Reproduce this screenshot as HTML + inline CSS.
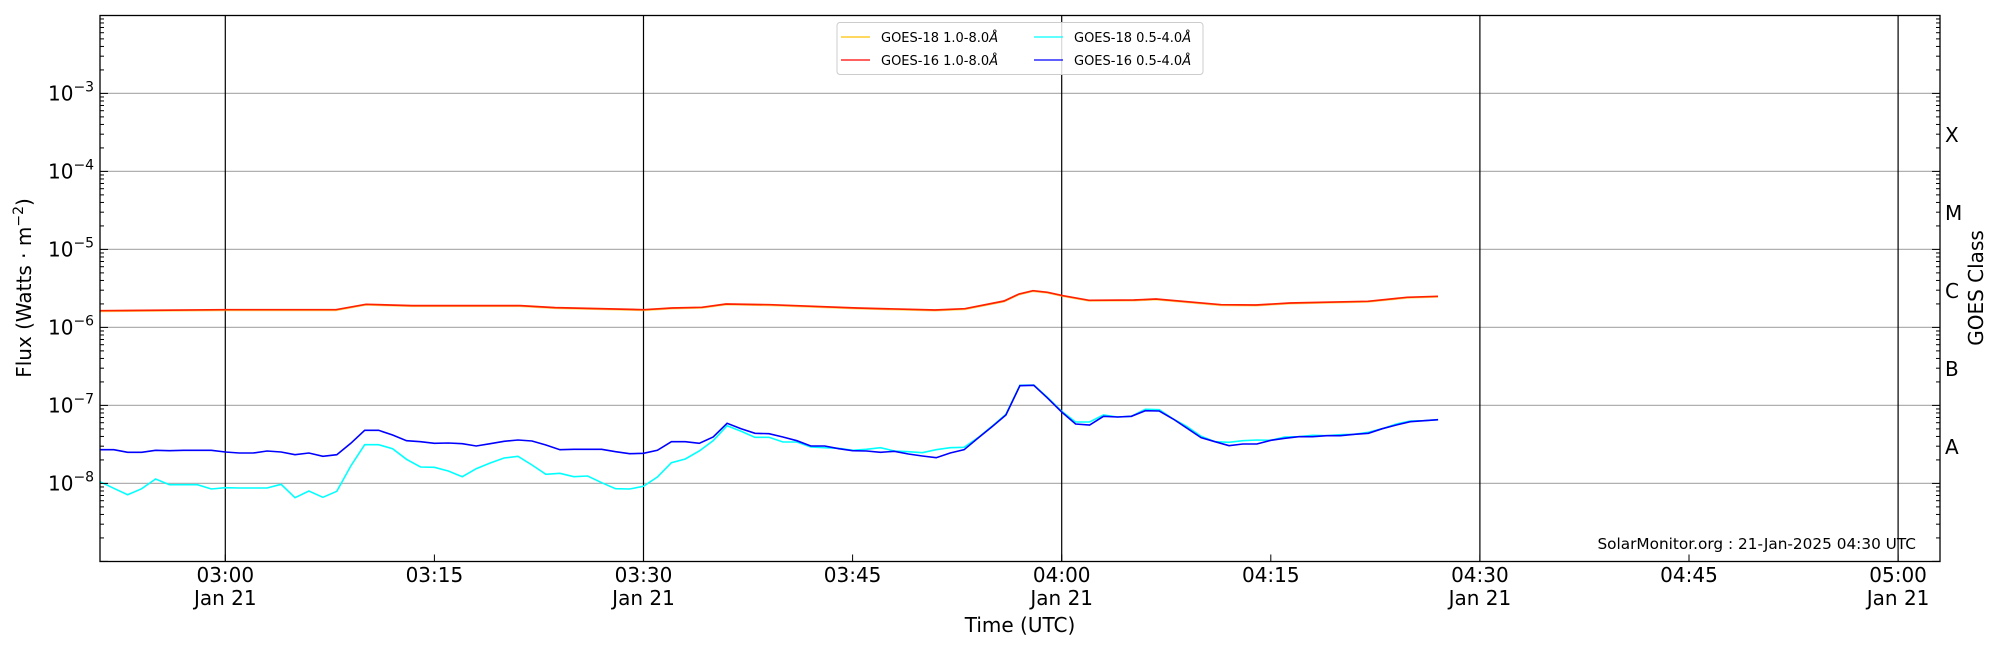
<!DOCTYPE html>
<html><head><meta charset="utf-8"><style>
html,body{margin:0;padding:0;background:#fff;}
svg{display:block;font-family:"DejaVu Sans","Liberation Sans",sans-serif;}
</style></head><body>
<svg id="s" width="2000" height="650" viewBox="0 0 2000 650" xmlns="http://www.w3.org/2000/svg">
<rect width="2000" height="650" fill="#fff"/>
<g id="grid"></g>
<g id="data"></g>
<rect x="100" y="15.5" width="1840" height="546" fill="none" stroke="#000" stroke-width="1.3"/>
<g id="ticks" stroke="#000" stroke-width="1"></g>
<g id="labels" font-size="20" fill="#000"></g>
<text x="1916" y="549" font-size="15.3" text-anchor="end">SolarMonitor.org : 21-Jan-2025 04:30 UTC</text>
<text x="1020" y="632" font-size="20" text-anchor="middle">Time (UTC)</text>
<text transform="translate(31,288) rotate(-90)" font-size="20" text-anchor="middle">Flux (Watts · m<tspan dy="-8" font-size="14">−2</tspan><tspan dy="8">)</tspan></text>
<text transform="translate(1983,288) rotate(-90)" font-size="20" text-anchor="middle">GOES Class</text>
<g>
<rect x="837" y="22.5" width="366" height="52" rx="3" fill="#fff" fill-opacity="0.85" stroke="#ccc"/>
<line x1="841" y1="37" x2="870" y2="37" stroke="#ffc000" stroke-width="1.3"/>
<line x1="841" y1="60" x2="870" y2="60" stroke="#ff0000" stroke-width="1.3"/>
<line x1="1034" y1="37" x2="1063" y2="37" stroke="#00ffff" stroke-width="1.3"/>
<line x1="1034" y1="60" x2="1063" y2="60" stroke="#0000ff" stroke-width="1.3"/>
<g font-size="13">
<text x="881" y="42">GOES-18 1.0-8.0<tspan font-style="italic">Å</tspan></text>
<text x="881" y="65">GOES-16 1.0-8.0<tspan font-style="italic">Å</tspan></text>
<text x="1074" y="42">GOES-18 0.5-4.0<tspan font-style="italic">Å</tspan></text>
<text x="1074" y="65">GOES-16 0.5-4.0<tspan font-style="italic">Å</tspan></text>
</g></g>
</svg>
<script>
var NS="http://www.w3.org/2000/svg";
function el(p,t,a,txt){var e=document.createElementNS(NS,t);for(var k in a)e.setAttribute(k,a[k]);if(txt!=null)e.textContent=txt;document.getElementById(p).appendChild(e);return e;}
var L=100,R=1940,T=15.5,B=561.5,D=78;
function yd(e){return 483.4-(e+8)*D;}
function xm(m){return 225.3+13.94*m;}
for(var e=-8;e<=-3;e++){el("grid","line",{x1:L,x2:R,y1:yd(e),y2:yd(e),stroke:"#b0b0b0","stroke-width":1.2});}
for(var i=0;i<5;i++){var x=xm(30*i);el("grid","line",{x1:x,x2:x,y1:T,y2:B,stroke:"#000","stroke-width":1.2});}
for(var e=-9;e<-2;e++){for(var k=1;k<10;k++){var y=yd(e)-D*Math.log10(k);if(y<T-0.5)continue;var len=k==1?8:4;
el("ticks","line",{x1:L,x2:L+len,y1:y,y2:y});el("ticks","line",{x1:R,x2:R-len,y1:y,y2:y});}}
for(var i=0;i<9;i++){var x=xm(15*i);el("ticks","line",{x1:x,x2:x,y1:B,y2:B-7});
var hh=Math.floor((180+15*i)/60),mm=(15*i)%60;var s="0"+hh+":"+(mm<10?"0":"")+mm;
el("labels","text",{x:x,y:582,"text-anchor":"middle"},s);
if(i%2==0)el("labels","text",{x:x,y:605,"text-anchor":"middle"},"Jan 21");}
for(var e=-8;e<=-3;e++){var t=el("labels","text",{x:48,y:yd(e)+7});t.textContent="10";
var sp=document.createElementNS(NS,"tspan");sp.setAttribute("dy","-9");sp.setAttribute("font-size","14");sp.textContent="−"+(-e);t.appendChild(sp);}
var cl=["X","M","C","B","A"];for(var i=0;i<5;i++){el("labels","text",{x:1945,y:yd(-3)+39+i*D+9.5},cl[i]);}
var blue=[269,269,277,277,271,272,271,271,271,276,279,279,273,276,284,279,289,284,250,211,211,225,242,245,250,249,251,258,251,244,240,243,255,
269,268,268,268,275,281,280,271,245,245,250,231,190,206,220,221,231,242,258,258,266,272,273,277,274,282,288,293,279,269,234,200,165,
77,76,115,156,192,195,169,171,169,152,153,177,205,233,245,257,252,252,241,235,230,230,227,227,223,220,206,195,185,182,179];
var cyan=[365,385,404,386,357,374,374,374,387,383,384,384,384,373,413,393,412,394,318,254,254,266,298,321,322,333,350,326,309,294,289,315,343,
340,350,348,368,386,387,379,351,308,297,273,242,197,214,232,232,246,246,261,263,265,271,268,263,273,275,278,269,263,262,233,199,163,
76,75,113,154,186,186,165,171,169,148,149,177,200,229,245,247,242,240,241,231,230,226,227,224,223,217,206,192,183,182,179];
function pts(a){var r=[];for(var i=0;i<a.length;i++){r.push(xm(i-9).toFixed(1)+","+(360+a[i]/3).toFixed(1));}return r.join(" ");}
var red=[[100,310.7],[225,309.7],[336,309.7],[366,304.3],[412,305.6],[520,305.6],[555,307.6],[644,309.7],[672,308],[702,307.3],[726,304],[770,304.7],[857,308],[935,310],[965,308.7],[1004,301],[1019,294],[1033,290.7],[1047.5,292.3],[1063,295.7],[1089,300.3],[1134,300],[1156,299],[1221,304.7],[1256,305],[1290,303],[1368,301.3],[1407,297.3],[1438,296.3]];
var rp=red.map(function(p){return p[0]+","+p[1];}).join(" ");
el("data","polyline",{points:rp,fill:"none",stroke:"#ffc000","stroke-width":1.4,"stroke-opacity":0.6,transform:"translate(0,0.8)"});
el("data","polyline",{points:rp,fill:"none",stroke:"#ff2000","stroke-width":1.7});
el("data","polyline",{points:pts(cyan),fill:"none",stroke:"#00ffff","stroke-width":1.6});
el("data","polyline",{points:pts(blue),fill:"none",stroke:"#0000ff","stroke-width":1.6});
</script>
</body></html>
